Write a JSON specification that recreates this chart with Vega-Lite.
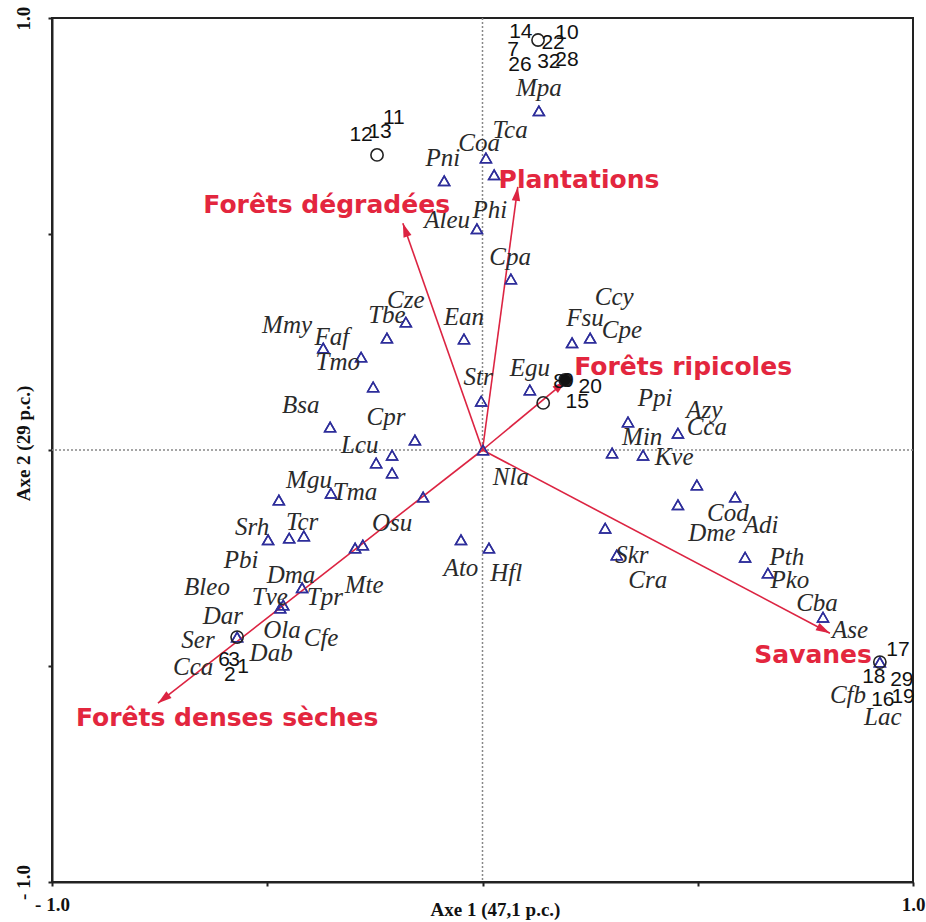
{
  "$schema": "https://vega.github.io/schema/vega-lite/v6.json",
  "width": 861,
  "height": 864,
  "autosize": {"type": "none"},
  "padding": {"left": 52, "top": 18, "right": 13, "bottom": 40},
  "background": "white",
  "config": {
    "view": {"stroke": "#222", "strokeWidth": 2},
    "axis": {"grid": false}
  },
  "datasets": {
    "species": [
      {"x":0.131,"y":0.785},{"x":0.008,"y":0.676},{"x":0.027,"y":0.637},{"x":-0.089,"y":0.623},{"x":-0.013,"y":0.512},{"x":0.066,"y":0.396},{"x":-0.178,"y":0.296},{"x":-0.222,"y":0.259},{"x":-0.370,"y":0.236},{"x":-0.282,"y":0.215},{"x":-0.254,"y":0.146},{"x":-0.354,"y":0.053},{"x":-0.157,"y":0.023},{"x":-0.210,"y":-0.012},{"x":-0.247,"y":-0.030},{"x":-0.210,"y":-0.053},{"x":-0.473,"y":-0.116},{"x":-0.352,"y":-0.100},{"x":-0.138,"y":-0.109},{"x":-0.498,"y":-0.208},{"x":-0.449,"y":-0.204},{"x":-0.415,"y":-0.199},{"x":-0.296,"y":-0.227},{"x":-0.278,"y":-0.220},{"x":-0.419,"y":-0.319},{"x":-0.463,"y":-0.359},{"x":-0.470,"y":-0.366},{"x":-0.570,"y":-0.433},{"x":-0.050,"y":-0.208},{"x":0.015,"y":-0.227},{"x":0.001,"y":0.0},{"x":-0.003,"y":0.113},{"x":-0.043,"y":0.257},{"x":0.110,"y":0.139},{"x":0.208,"y":0.248},{"x":0.250,"y":0.259},{"x":0.338,"y":0.065},{"x":0.454,"y":0.039},{"x":0.301,"y":-0.007},{"x":0.373,"y":-0.012},{"x":0.498,"y":-0.081},{"x":0.454,"y":-0.127},{"x":0.587,"y":-0.109},{"x":0.285,"y":-0.181},{"x":0.312,"y":-0.243},{"x":0.610,"y":-0.248},{"x":0.663,"y":-0.285},{"x":0.791,"y":-0.387},{"x":0.923,"y":-0.491}
    ],
    "spLabels": [
      {"x":0.131,"y":0.838,"t":"Mpa"},{"x":0.064,"y":0.741,"t":"Tca"},{"x":-0.008,"y":0.711,"t":"Coa"},{"x":-0.092,"y":0.676,"t":"Pni"},{"x":0.017,"y":0.556,"t":"Phi"},{"x":-0.082,"y":0.532,"t":"Aleu"},{"x":0.064,"y":0.447,"t":"Cpa"},{"x":-0.178,"y":0.347,"t":"Cze"},{"x":-0.222,"y":0.312,"t":"Tbe"},{"x":-0.454,"y":0.289,"t":"Mmy"},{"x":-0.350,"y":0.262,"t":"Faf"},{"x":-0.336,"y":0.204,"t":"Tmo"},{"x":-0.422,"y":0.104,"t":"Bsa"},{"x":-0.224,"y":0.076,"t":"Cpr"},{"x":-0.285,"y":0.012,"t":"Lcu"},{"x":-0.403,"y":-0.069,"t":"Mgu"},{"x":-0.296,"y":-0.097,"t":"Tma"},{"x":-0.535,"y":-0.178,"t":"Srh"},{"x":-0.419,"y":-0.167,"t":"Tcr"},{"x":-0.210,"y":-0.169,"t":"Osu"},{"x":-0.561,"y":-0.255,"t":"Pbi"},{"x":-0.445,"y":-0.289,"t":"Dma"},{"x":-0.275,"y":-0.313,"t":"Mte"},{"x":-0.640,"y":-0.317,"t":"Bleo"},{"x":-0.494,"y":-0.340,"t":"Tve"},{"x":-0.366,"y":-0.340,"t":"Tpr"},{"x":-0.603,"y":-0.384,"t":"Dar"},{"x":-0.466,"y":-0.417,"t":"Ola"},{"x":-0.375,"y":-0.435,"t":"Cfe"},{"x":-0.661,"y":-0.440,"t":"Ser"},{"x":-0.491,"y":-0.470,"t":"Dab"},{"x":-0.672,"y":-0.502,"t":"Cca"},{"x":-0.050,"y":-0.273,"t":"Ato"},{"x":0.055,"y":-0.285,"t":"Hfl"},{"x":0.066,"y":-0.062,"t":"Nla"},{"x":-0.010,"y":0.169,"t":"Str"},{"x":-0.043,"y":0.308,"t":"Ean"},{"x":0.110,"y":0.190,"t":"Egu"},{"x":0.306,"y":0.354,"t":"Ccy"},{"x":0.238,"y":0.306,"t":"Fsu"},{"x":0.324,"y":0.278,"t":"Cpe"},{"x":0.401,"y":0.120,"t":"Ppi"},{"x":0.515,"y":0.093,"t":"Azy"},{"x":0.521,"y":0.053,"t":"Cca"},{"x":0.371,"y":0.030,"t":"Min"},{"x":0.445,"y":-0.016,"t":"Kve"},{"x":0.570,"y":-0.146,"t":"Cod"},{"x":0.647,"y":-0.174,"t":"Adi"},{"x":0.533,"y":-0.192,"t":"Dme"},{"x":0.347,"y":-0.243,"t":"Skr"},{"x":0.384,"y":-0.301,"t":"Cra"},{"x":0.707,"y":-0.248,"t":"Pth"},{"x":0.714,"y":-0.301,"t":"Pko"},{"x":0.777,"y":-0.354,"t":"Cba"},{"x":0.854,"y":-0.417,"t":"Ase"},{"x":0.849,"y":-0.567,"t":"Cfb"},{"x":0.930,"y":-0.618,"t":"Lac"}
    ],
    "sites": [
      {"x":0.129,"y":0.949,"kind":"open"},{"x":-0.245,"y":0.683,"kind":"open"},{"x":0.141,"y":0.109,"kind":"open"},{"x":0.192,"y":0.162,"kind":"filled"},{"x":-0.570,"y":-0.433,"kind":"open"},{"x":0.923,"y":-0.491,"kind":"open"}
    ],
    "siteLabels": [
      {"x":0.089,"y":0.968,"t":"14"},{"x":0.196,"y":0.965,"t":"10"},{"x":0.071,"y":0.926,"t":"7"},{"x":0.164,"y":0.942,"t":"22"},{"x":0.087,"y":0.891,"t":"26"},{"x":0.154,"y":0.898,"t":"32"},{"x":0.196,"y":0.903,"t":"28"},{"x":-0.282,"y":0.729,"t":"12"},{"x":-0.238,"y":0.736,"t":"13"},{"x":-0.206,"y":0.769,"t":"11"},{"x":0.178,"y":0.157,"t":"8"},{"x":0.199,"y":0.160,"t":"9"},{"x":0.250,"y":0.146,"t":"20"},{"x":0.220,"y":0.111,"t":"15"},{"x":0.965,"y":-0.463,"t":"17"},{"x":0.909,"y":-0.525,"t":"18"},{"x":0.974,"y":-0.532,"t":"29"},{"x":0.930,"y":-0.579,"t":"16"},{"x":0.977,"y":-0.572,"t":"19"},{"x":-0.600,"y":-0.486,"t":"6"},{"x":-0.577,"y":-0.486,"t":"3"},{"x":-0.587,"y":-0.521,"t":"2"},{"x":-0.556,"y":-0.502,"t":"1"}
    ],
    "arrows": [
      {"x":-0.185,"y":0.525},{"x":0.082,"y":0.609},{"x":0.194,"y":0.160},{"x":0.807,"y":-0.424},{"x":-0.754,"y":-0.586}
    ],
    "arrowLabels": [
      {"x":-0.362,"y":0.567,"t":"Forêts dégradées"},{"x":0.224,"y":0.625,"t":"Plantations"},{"x":0.466,"y":0.192,"t":"Forêts ripicoles"},{"x":0.768,"y":-0.475,"t":"Savanes"},{"x":-0.593,"y":-0.620,"t":"Forêts denses sèches"}
    ],
    "origin": [{"x":0,"y":0}]
  },
  "layer": [
    {
      "data": {"name": "species"},
      "mark": {"type": "point", "shape": "triangle-up", "size": 120, "strokeWidth": 1.5, "color": "#2d2d9a", "filled": false, "opacity": 1},
      "encoding": {
        "x": {"field": "x", "type": "quantitative", "scale": {"domain": [-1, 1], "nice": false, "zero": false},
          "axis": {"values": [-1, -0.5, 0, 0.5, 1], "labelExpr": "datum.value == 1 ? '1.0' : (datum.value == -1 ? '- 1.0' : '')", "domainColor": "#222", "domainWidth": 2, "tickColor": "#222", "tickWidth": 2, "tickSize": 4, "labelFont": "Liberation Serif", "labelFontWeight": "bold", "labelFontSize": 19, "labelColor": "#111", "labelPadding": 9, "labelFlush": false, "title": "Axe 1 (47,1 p.c.)", "titleFont": "Liberation Serif", "titleFontSize": 19, "titleFontWeight": "bold", "titleColor": "#111", "titleX": 443, "titleY": 18, "titleAlign": "center", "titleBaseline": "top"}},
        "y": {"field": "y", "type": "quantitative", "scale": {"domain": [-1, 1], "nice": false, "zero": false},
          "axis": {"values": [-1, -0.5, 0, 0.5, 1], "labelExpr": "datum.value == 1 ? '1.0' : (datum.value == -1 ? '- 1.0' : '')", "domainColor": "#222", "domainWidth": 2, "tickColor": "#222", "tickWidth": 2, "tickSize": 4, "labelFont": "Liberation Serif", "labelFontWeight": "bold", "labelFontSize": 19, "labelColor": "#111", "labelAngle": -90, "labelAlign": "center", "labelBaseline": "bottom", "labelPadding": 15, "labelFlush": false, "title": "Axe 2 (29 p.c.)", "titleFont": "Liberation Serif", "titleFontSize": 19, "titleFontWeight": "bold", "titleColor": "#111", "titleAngle": -90, "titleX": -29, "titleY": 425, "titleAlign": "center", "titleBaseline": "middle"}}
      }
    },
    {
      "data": {"name": "origin"},
      "mark": {"type": "rule", "color": "#888", "strokeDash": [2, 2], "strokeWidth": 1.5},
      "encoding": {"x": {"field": "x", "type": "quantitative"}}
    },
    {
      "data": {"name": "origin"},
      "mark": {"type": "rule", "color": "#888", "strokeDash": [2, 2], "strokeWidth": 1.5},
      "encoding": {"y": {"field": "y", "type": "quantitative"}}
    },
    {
      "data": {"name": "arrows"},
      "transform": [{"calculate": "0", "as": "x0"}, {"calculate": "0", "as": "y0"}],
      "mark": {"type": "rule", "color": "#dc2442", "strokeWidth": 1.6},
      "encoding": {
        "x": {"field": "x0", "type": "quantitative"},
        "y": {"field": "y0", "type": "quantitative"},
        "x2": {"field": "x"},
        "y2": {"field": "y"}
      }
    },
    {
      "data": {"name": "arrows"},
      "transform": [{"calculate": "atan2(datum.x, datum.y) * 180 / PI", "as": "ang"}],
      "mark": {"type": "point", "shape": "M0,0L-0.6,2L0.6,2Z", "size": 196, "filled": true, "color": "#dc2442", "opacity": 1},
      "encoding": {
        "x": {"field": "x", "type": "quantitative"},
        "y": {"field": "y", "type": "quantitative"},
        "angle": {"field": "ang", "type": "quantitative", "scale": null}
      }
    },
    {
      "data": {"name": "species"},
      "mark": {"type": "point", "shape": "triangle-up", "size": 120, "strokeWidth": 1.5, "color": "#2d2d9a", "filled": false, "opacity": 1},
      "encoding": {
        "x": {"field": "x", "type": "quantitative"},
        "y": {"field": "y", "type": "quantitative"}
      }
    },
    {
      "data": {"name": "sites"},
      "mark": {"type": "point", "shape": "circle", "size": 150, "strokeWidth": 1.6, "stroke": "#222", "opacity": 1},
      "encoding": {
        "x": {"field": "x", "type": "quantitative"},
        "y": {"field": "y", "type": "quantitative"},
        "fill": {"field": "kind", "type": "nominal", "scale": {"domain": ["open", "filled"], "range": ["transparent", "#111111"]}, "legend": null}
      }
    },
    {
      "data": {"name": "spLabels"},
      "mark": {"type": "text", "font": "Liberation Serif", "fontStyle": "italic", "fontSize": 25, "color": "#2a2a2a", "align": "center", "baseline": "middle"},
      "encoding": {
        "x": {"field": "x", "type": "quantitative"},
        "y": {"field": "y", "type": "quantitative"},
        "text": {"field": "t"}
      }
    },
    {
      "data": {"name": "siteLabels"},
      "mark": {"type": "text", "font": "Liberation Sans", "fontSize": 21, "color": "#111", "align": "center", "baseline": "middle"},
      "encoding": {
        "x": {"field": "x", "type": "quantitative"},
        "y": {"field": "y", "type": "quantitative"},
        "text": {"field": "t"}
      }
    },
    {
      "data": {"name": "arrowLabels"},
      "mark": {"type": "text", "font": "DejaVu Sans", "fontWeight": "bold", "fontSize": 25, "color": "#e3263e", "align": "center", "baseline": "middle"},
      "encoding": {
        "x": {"field": "x", "type": "quantitative"},
        "y": {"field": "y", "type": "quantitative"},
        "text": {"field": "t"}
      }
    }
  ]
}
